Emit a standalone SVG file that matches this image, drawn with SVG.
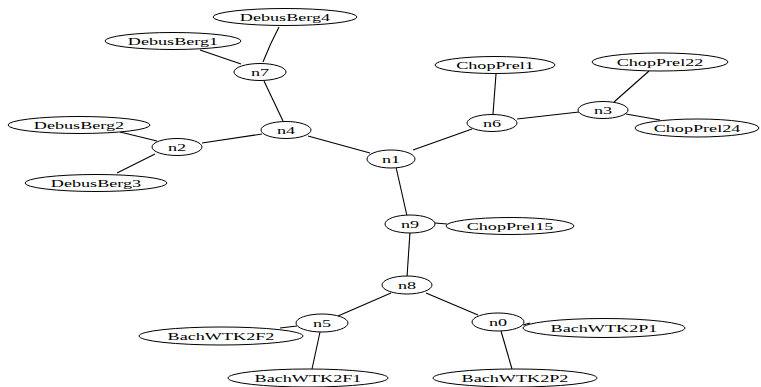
<svg xmlns="http://www.w3.org/2000/svg" width="761" height="387" viewBox="0 0 761 387">
<style>
  .bg { fill: #ffffff; }
  .node ellipse { fill: #ffffff; stroke: #000000; stroke-width: 1; }
  .node text { font-family: "Liberation Serif", "Times New Roman", serif; font-size: 11px; fill: #000000; text-anchor: middle; }
  .edges line, .edges path { stroke: #000000; stroke-width: 1.1; fill: none; }
</style>
<rect class="bg" x="0" y="0" width="761" height="387"/>
<g id="connectors" class="edges">
  <line x1="200" y1="50" x2="241" y2="64"/>
  <path d="M279,27 Q270,44 263,62"/>
  <line x1="264" y1="81" x2="283" y2="121"/>
  <line x1="120" y1="132" x2="157" y2="141"/>
  <line x1="155" y1="154" x2="117" y2="173"/>
  <line x1="202" y1="143" x2="262" y2="134"/>
  <line x1="308" y1="136" x2="370" y2="153"/>
  <line x1="413" y1="150" x2="472" y2="129"/>
  <line x1="493" y1="114" x2="496" y2="74"/>
  <line x1="517" y1="119" x2="579" y2="112"/>
  <line x1="614" y1="102" x2="649" y2="71"/>
  <line x1="626" y1="114" x2="660" y2="120"/>
  <line x1="396" y1="167" x2="407" y2="216"/>
  <line x1="435" y1="223" x2="447" y2="224"/>
  <line x1="410" y1="232" x2="407" y2="277"/>
  <line x1="391" y1="293" x2="338" y2="316"/>
  <line x1="426" y1="293" x2="478" y2="315"/>
  <line x1="297" y1="326" x2="280" y2="328"/>
  <line x1="320" y1="332" x2="312" y2="369"/>
  <line x1="501" y1="331" x2="512" y2="369"/>
  <line x1="523" y1="325" x2="530" y2="323"/>
</g>
<g id="DebusBerg4" class="node"><ellipse cx="285" cy="17" rx="72" ry="8.5"/><text transform="matrix(1.65,0,0,1,285,21)">DebusBerg4</text></g>
<g id="DebusBerg1" class="node"><ellipse cx="173" cy="41" rx="68" ry="8.5"/><text transform="matrix(1.65,0,0,1,173,45)">DebusBerg1</text></g>
<g id="n7" class="node"><ellipse cx="260" cy="72" rx="26" ry="8.5"/><text transform="matrix(1.65,0,0,1,260,76)">n7</text></g>
<g id="n4" class="node"><ellipse cx="286" cy="130" rx="25" ry="8.5"/><text transform="matrix(1.65,0,0,1,286,134)">n4</text></g>
<g id="DebusBerg2" class="node"><ellipse cx="79" cy="125" rx="71" ry="8.5"/><text transform="matrix(1.65,0,0,1,79,129)">DebusBerg2</text></g>
<g id="n2" class="node"><ellipse cx="177" cy="147" rx="25" ry="8.5"/><text transform="matrix(1.65,0,0,1,177,151)">n2</text></g>
<g id="DebusBerg3" class="node"><ellipse cx="96" cy="183" rx="71" ry="8.5"/><text transform="matrix(1.65,0,0,1,96,187)">DebusBerg3</text></g>
<g id="n1" class="node"><ellipse cx="391" cy="159" rx="24" ry="9"/><text transform="matrix(1.65,0,0,1,391,163)">n1</text></g>
<g id="n6" class="node"><ellipse cx="492" cy="123" rx="25" ry="8.5"/><text transform="matrix(1.65,0,0,1,492,127)">n6</text></g>
<g id="ChopPrel1" class="node"><ellipse cx="495" cy="65" rx="60" ry="8.5"/><text transform="matrix(1.65,0,0,1,495,69)">ChopPrel1</text></g>
<g id="n3" class="node"><ellipse cx="603" cy="110" rx="25" ry="8.5"/><text transform="matrix(1.65,0,0,1,603,114)">n3</text></g>
<g id="ChopPrel22" class="node"><ellipse cx="660" cy="62" rx="68" ry="9"/><text transform="matrix(1.65,0,0,1,660,66)">ChopPrel22</text></g>
<g id="ChopPrel24" class="node"><ellipse cx="697" cy="128" rx="62" ry="9"/><text transform="matrix(1.65,0,0,1,697,132)">ChopPrel24</text></g>
<g id="n9" class="node"><ellipse cx="410" cy="224" rx="25" ry="9"/><text transform="matrix(1.65,0,0,1,410,228)">n9</text></g>
<g id="ChopPrel15" class="node"><ellipse cx="510" cy="226" rx="64" ry="8.5"/><text transform="matrix(1.65,0,0,1,510,230)">ChopPrel15</text></g>
<g id="n8" class="node"><ellipse cx="407" cy="285" rx="25" ry="9"/><text transform="matrix(1.65,0,0,1,407,289)">n8</text></g>
<g id="n5" class="node"><ellipse cx="322" cy="323" rx="26" ry="9"/><text transform="matrix(1.65,0,0,1,322,327)">n5</text></g>
<g id="n0" class="node"><ellipse cx="498" cy="322" rx="26" ry="9"/><text transform="matrix(1.65,0,0,1,498,326)">n0</text></g>
<g id="BachWTK2F2" class="node"><ellipse cx="221" cy="336" rx="82" ry="9"/><text transform="matrix(1.65,0,0,1,221,340)">BachWTK2F2</text></g>
<g id="BachWTK2F1" class="node"><ellipse cx="308" cy="378" rx="80" ry="9"/><text transform="matrix(1.65,0,0,1,308,382)">BachWTK2F1</text></g>
<g id="BachWTK2P2" class="node"><ellipse cx="515" cy="378" rx="82" ry="9"/><text transform="matrix(1.65,0,0,1,515,382)">BachWTK2P2</text></g>
<g id="BachWTK2P1" class="node"><ellipse cx="604" cy="328" rx="81" ry="9.5"/><text transform="matrix(1.65,0,0,1,604,332)">BachWTK2P1</text></g>
</svg>
